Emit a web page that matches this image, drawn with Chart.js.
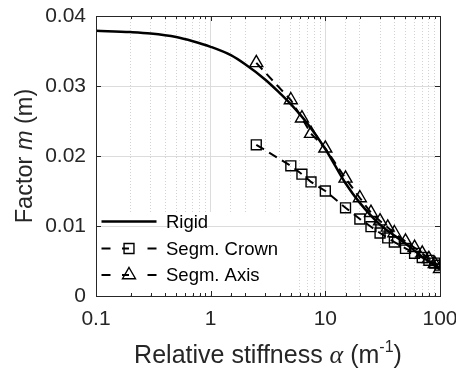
<!DOCTYPE html>
<html>
<head>
<meta charset="utf-8">
<script src="https://cdn.jsdelivr.net/npm/chart.js@4.4.1/dist/chart.umd.min.js"></script>
<style>
  html, body { margin: 0; padding: 0; background: #fff; }
  #wrap { width: 456px; height: 372px; }
</style>
</head>
<body>
<div id="wrap"><canvas id="chart" width="456" height="372"></canvas></div>
<script>
// values
const alphaRigid = [0.1, 0.2, 0.3, 0.5, 0.7, 1, 1.5, 2, 3, 4, 5, 7, 10, 15, 20, 30, 50, 70, 100];
const mRigid = [0.0379, 0.0377, 0.0375, 0.0370, 0.0364, 0.0356, 0.0344, 0.0331, 0.0309, 0.0290, 0.0274,
  0.0246, 0.0210, 0.0161, 0.0133, 0.0102, 0.0075, 0.0056, 0.0038];

const alphaSegm = [2.5, 5, 6.25, 7.5, 10, 15, 20, 25, 30, 35, 40, 50, 60, 70, 80, 90, 100];
const mCrown = [0.0216, 0.0186, 0.0174, 0.0163, 0.0150, 0.0126, 0.0110, 0.0099, 0.0090, 0.0083, 0.0077,
  0.0068, 0.0061, 0.0055, 0.0051, 0.0047, 0.0044];
const mAxis = [0.0333, 0.0280, 0.0254, 0.0232, 0.0211, 0.0168, 0.0140, 0.0119, 0.0107, 0.0098, 0.0090,
  0.0078, 0.0069, 0.0061, 0.0053, 0.0046, 0.0039];

const seriesNames = ['Rigid', 'Segm. Crown', 'Segm. Axis'];
const xTicks = [0.1, 1, 10, 100];
const yTicks = [0, 0.01, 0.02, 0.03, 0.04];

const ink = '#262626';
const sans = '"Liberation Sans", Arial, sans-serif';
const serif = '"Liberation Serif", "DejaVu Serif", serif';

function toPoints(xs, ys) {
  return xs.map((x, i) => ({ x: x, y: ys[i] }));
}

function isMajor(v) {
  return xTicks.some(t => Math.abs(v - t) < t * 1e-6);
}

// text made of pieces with different fonts (italic m, alpha, superscript)
function drawRich(ctx, parts, x, y) {
  let total = 0;
  parts.forEach(p => { ctx.font = p.font; p.w = ctx.measureText(p.text).width; total += p.w; });
  let cx = x - total / 2;
  ctx.textAlign = 'left';
  ctx.textBaseline = 'alphabetic';
  parts.forEach(p => {
    ctx.font = p.font;
    ctx.fillText(p.text, cx, y + (p.dy || 0));
    cx += p.w;
  });
}

function drawMarker(ctx, style, x, y, r) {
  ctx.beginPath();
  if (style === 'rect') {
    const s = Math.SQRT1_2 * r;
    ctx.rect(x - s, y - s, 2 * s, 2 * s);
  } else {
    ctx.moveTo(x, y - r);
    ctx.lineTo(x + r * Math.sin(2 * Math.PI / 3), y + r / 2);
    ctx.lineTo(x - r * Math.sin(2 * Math.PI / 3), y + r / 2);
    ctx.closePath();
  }
  ctx.stroke();
}

const legendBox = { left: 97, top: 212, right: 292, bottom: 295 };

const matlabLook = {
  id: 'matlabLook',
  beforeDatasetsDraw(chart) {
    const ctx = chart.ctx;
    const ys = chart.scales.y;
    ctx.save();
    ctx.fillStyle = '#ffffff';
    ctx.fillRect(legendBox.left, legendBox.top, legendBox.right - legendBox.left, legendBox.bottom - legendBox.top);
    // the 0.01 grid line still runs across the legend in the reference
    const gy = Math.round(ys.getPixelForValue(0.01)) + 0.5;
    ctx.strokeStyle = '#dcdcdc';
    ctx.lineWidth = 1;
    ctx.beginPath();
    ctx.moveTo(legendBox.left, gy);
    ctx.lineTo(legendBox.right, gy);
    ctx.stroke();
    ctx.restore();
  },
  afterDraw(chart) {
    const ctx = chart.ctx;
    const a = chart.chartArea;
    const xs = chart.scales.x;
    const ys = chart.scales.y;
    ctx.save();
    ctx.strokeStyle = ink;
    ctx.lineWidth = 1;

    // inward ticks
    ctx.beginPath();
    xs.ticks.forEach(t => {
      const px = Math.round(xs.getPixelForValue(t.value)) + 0.5;
      const len = isMajor(t.value) ? 5 : 3;
      ctx.moveTo(px, a.bottom); ctx.lineTo(px, a.bottom - len);
      ctx.moveTo(px, a.top); ctx.lineTo(px, a.top + len);
    });
    yTicks.forEach(v => {
      const py = Math.round(ys.getPixelForValue(v)) + 0.5;
      ctx.moveTo(a.left, py); ctx.lineTo(a.left + 5, py);
      ctx.moveTo(a.right, py); ctx.lineTo(a.right - 5, py);
    });
    ctx.stroke();

    // axes box
    ctx.strokeRect(Math.round(a.left) + 0.5, Math.round(a.top) + 0.5,
      Math.round(a.right - a.left), Math.round(a.bottom - a.top));

    // legend
    const ds = chart.data.datasets;
    const rowY = [221.5, 248.5, 275];
    ds.forEach((d, i) => {
      const y = rowY[i];
      ctx.strokeStyle = d.borderColor;
      ctx.lineWidth = d.borderWidth;
      ctx.beginPath();
      if (i === 0) {
        ctx.moveTo(101.5, y); ctx.lineTo(156.5, y);
      } else {
        ctx.moveTo(101.5, y); ctx.lineTo(110.5, y);
        ctx.moveTo(122, y); ctx.lineTo(129, y);
        ctx.moveTo(147.5, y); ctx.lineTo(156.5, y);
      }
      ctx.stroke();
      if (d.pointStyle && d.pointRadius > 0) {
        ctx.lineWidth = d.pointBorderWidth;
        drawMarker(ctx, d.pointStyle, 129, y, d.pointRadius);
      }
      ctx.fillStyle = '#000000';
      ctx.font = '18.5px ' + sans;
      ctx.textAlign = 'left';
      ctx.textBaseline = 'middle';
      ctx.fillText(d.label, 166, y + 1);
    });

    // axis titles
    ctx.fillStyle = ink;
    const cx = (a.left + a.right) / 2;
    drawRich(ctx, [
      { text: 'Relative stiffness ', font: '25px ' + sans },
      { text: 'α', font: 'italic 26px ' + serif },
      { text: ' (m', font: '25px ' + sans },
      { text: '-1', font: '16px ' + sans, dy: -11 },
      { text: ')', font: '25px ' + sans }
    ], cx, 363);

    ctx.save();
    ctx.translate(32, (a.top + a.bottom) / 2);
    ctx.rotate(-Math.PI / 2);
    drawRich(ctx, [
      { text: 'Factor ', font: '23.5px ' + sans },
      { text: 'm', font: 'italic 23.5px ' + sans },
      { text: ' (m)', font: '23.5px ' + sans }
    ], 0, 0);
    ctx.restore();

    ctx.restore();
  }
};

const config = {
  type: 'scatter',
  data: {
    datasets: [{
      label: seriesNames[0],
      data: toPoints(alphaRigid, mRigid),
      showLine: true,
      borderColor: '#000000',
      borderWidth: 2.5,
      pointRadius: 0,
      pointStyle: false,
      cubicInterpolationMode: 'monotone'
    }, {
      label: seriesNames[1],
      data: toPoints(alphaSegm, mCrown),
      showLine: true,
      borderColor: '#000000',
      borderWidth: 2,
      borderDash: [9, 6],
      pointStyle: 'rect',
      pointRadius: 7,
      pointBorderWidth: 1.4,
      pointBorderColor: '#000000',
      pointBackgroundColor: 'rgba(0,0,0,0)'
    }, {
      label: seriesNames[2],
      data: toPoints(alphaSegm, mAxis),
      showLine: true,
      borderColor: '#000000',
      borderWidth: 2,
      borderDash: [9, 6],
      pointStyle: 'triangle',
      pointRadius: 7.5,
      pointBorderWidth: 1.4,
      pointBorderColor: '#000000',
      pointBackgroundColor: 'rgba(0,0,0,0)'
    }]
  },
  options: {
    responsive: false,
    animation: false,
    events: [],
    layout: { padding: { left: 0, top: 16, right: 16, bottom: 0 } },
    plugins: {
      legend: { display: false },
      tooltip: { enabled: false }
    },
    scales: {
      x: {
        type: 'logarithmic',
        min: 0.1,
        max: 100,
        border: {
          display: false,
          dash: ctx => (ctx.tick && !isMajor(ctx.tick.value)) ? [1, 2] : []
        },
        grid: {
          drawTicks: false,
          color: ctx => (ctx.tick && !isMajor(ctx.tick.value)) ? '#d2d2d2' : '#dcdcdc'
        },
        ticks: {
          autoSkip: false,
          maxRotation: 0,
          padding: 11,
          color: ink,
          font: { family: sans, size: 21 },
          callback: v => isMajor(v) ? String(Number(v)) : ''
        },
        afterFit: s => { s.height = 76; s.paddingLeft = 0; s.paddingRight = 0; }
      },
      y: {
        min: 0,
        max: 0.04,
        afterBuildTicks: s => { s.ticks = yTicks.map(v => ({ value: v })); },
        border: { display: false },
        grid: { drawTicks: false, color: '#dcdcdc' },
        ticks: {
          padding: 10,
          color: ink,
          font: { family: sans, size: 21 },
          callback: v => String(Number(v.toFixed(2)))
        },
        afterFit: s => { s.width = 96; s.paddingTop = 0; s.paddingBottom = 0; }
      }
    }
  },
  plugins: [matlabLook]
};

new Chart(document.getElementById('chart'), config);
</script>
</body>
</html>
